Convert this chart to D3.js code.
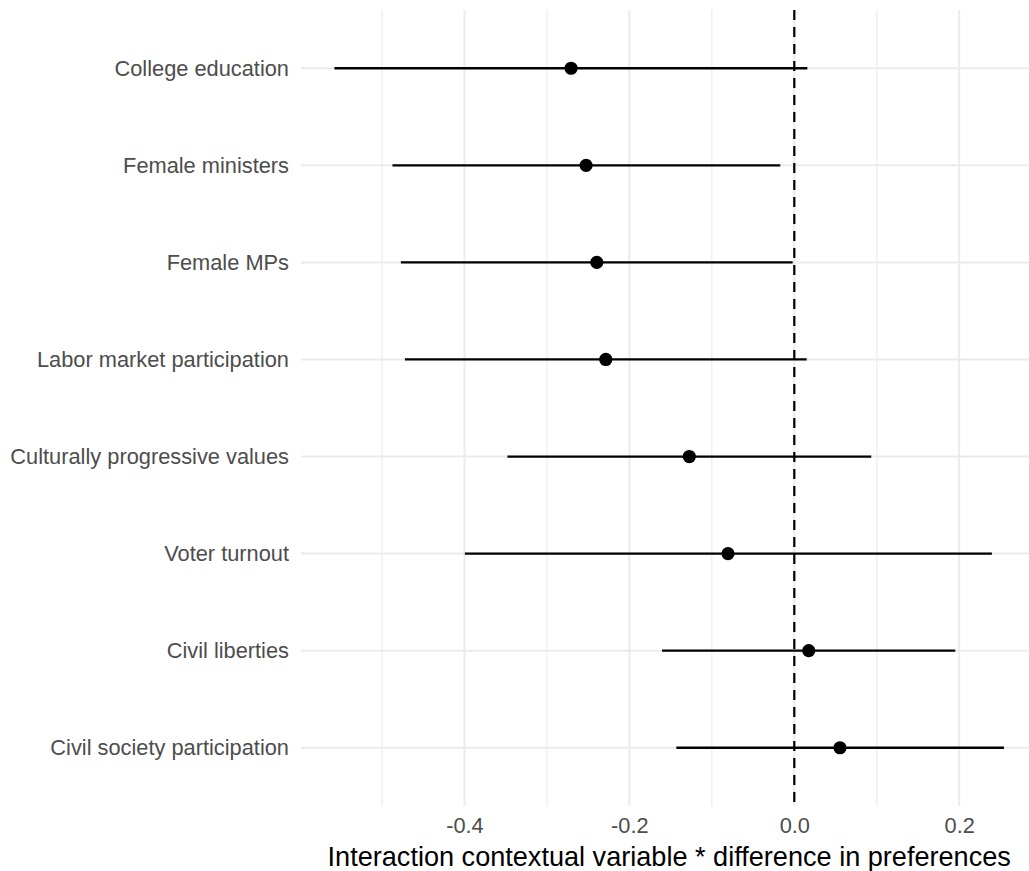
<!DOCTYPE html>
<html>
<head>
<meta charset="utf-8">
<script src="https://cdn.jsdelivr.net/npm/d3@7"></script>
<style>
  html, body { margin: 0; padding: 0; background: #fff; }
  svg { display: block; font-family: "Liberation Sans", Arial, Helvetica, sans-serif; }
</style>
</head>
<body>
<svg id="chart" width="1029" height="871"></svg>
<script>
// Coefficient estimates with confidence bounds, one row per contextual variable
const categories = [
  "College education",
  "Female ministers",
  "Female MPs",
  "Labor market participation",
  "Culturally progressive values",
  "Voter turnout",
  "Civil liberties",
  "Civil society participation"
];
const estimates = [-0.2707, -0.2525, -0.2395, -0.2286, -0.1273, -0.0804, 0.0175, 0.0554];
const lowerBounds = [-0.5576, -0.4873, -0.4771, -0.4722, -0.3479, -0.3995, -0.1604, -0.1430];
const upperBounds = [0.0158, -0.0170, -0.0020, 0.0150, 0.0933, 0.2396, 0.1952, 0.2542];
const majorTicks = [-0.4, -0.2, 0.0, 0.2];
const minorTicks = [-0.5, -0.3, -0.1, 0.1];
const xTitle = "Interaction contextual variable * difference in preferences";

const rows = categories.map((c, i) => ({
  name: c, est: estimates[i], lo: lowerBounds[i], hi: upperBounds[i]
}));

const svg = d3.select("#chart");
const panel = { left: 301, right: 1037.4, top: 10, bottom: 806 };

// Continuous x with 5% expansion on each side of the data range
const lo = d3.min(lowerBounds), hi = d3.max(upperBounds);
const pad = (hi - lo) * 0.05;
const x = d3.scaleLinear().domain([lo - pad, hi + pad]).range([panel.left, panel.right]);
const y = d3.scalePoint().domain(categories).range([panel.top, panel.bottom]).padding(0.6);

const grid = svg.append("g");
grid.selectAll("line.minor").data(minorTicks).join("line")
  .attr("class", "minor")
  .attr("x1", d => x(d)).attr("x2", d => x(d))
  .attr("y1", panel.top).attr("y2", panel.bottom)
  .attr("stroke", "#ebebeb").attr("stroke-width", 1.1);
grid.selectAll("line.majorx").data(majorTicks).join("line")
  .attr("class", "majorx")
  .attr("x1", d => x(d)).attr("x2", d => x(d))
  .attr("y1", panel.top).attr("y2", panel.bottom)
  .attr("stroke", "#ebebeb").attr("stroke-width", 2);
grid.selectAll("line.majory").data(categories).join("line")
  .attr("class", "majory")
  .attr("x1", panel.left).attr("x2", panel.right)
  .attr("y1", d => y(d)).attr("y2", d => y(d))
  .attr("stroke", "#ebebeb").attr("stroke-width", 2);

// Reference line at zero
svg.append("line")
  .attr("x1", x(0)).attr("x2", x(0))
  .attr("y1", panel.top).attr("y2", panel.bottom)
  .attr("stroke", "#000").attr("stroke-width", 2.2)
  .attr("stroke-dasharray", "10,7");

// Interval segments
svg.append("g").selectAll("line").data(rows).join("line")
  .attr("x1", d => x(d.lo)).attr("x2", d => x(d.hi))
  .attr("y1", d => y(d.name)).attr("y2", d => y(d.name))
  .attr("stroke", "#000").attr("stroke-width", 2.3);

// Point estimates
svg.append("g").selectAll("circle").data(rows).join("circle")
  .attr("cx", d => x(d.est)).attr("cy", d => y(d.name))
  .attr("r", 6.6).attr("fill", "#000");

// Axes (labels only, as in a minimal theme)
const xAxis = svg.append("g")
  .attr("transform", `translate(0,${panel.bottom + 11})`)
  .call(d3.axisBottom(x).tickValues(majorTicks).tickFormat(d => d.toFixed(1)).tickSize(0).tickPadding(0));
xAxis.select(".domain").remove();
xAxis.selectAll("text")
  .attr("dy", null).attr("y", 0)
  .attr("dominant-baseline", "hanging")
  .style("font-size", "21.8px").style("font-family", "Liberation Sans, Arial, sans-serif")
  .attr("fill", "#4d4d4d");

const yAxis = svg.append("g")
  .attr("transform", `translate(${panel.left - 12},0)`)
  .call(d3.axisLeft(y).tickSize(0).tickPadding(0));
yAxis.select(".domain").remove();
yAxis.selectAll("text")
  .style("font-size", "21.8px").style("font-family", "Liberation Sans, Arial, sans-serif")
  .attr("fill", "#4d4d4d");

svg.append("text")
  .attr("x", (panel.left + panel.right) / 2)
  .attr("y", 866)
  .attr("text-anchor", "middle")
  .style("font-size", "27.1px")
  .attr("fill", "#000")
  .text(xTitle);
</script>
</body>
</html>
